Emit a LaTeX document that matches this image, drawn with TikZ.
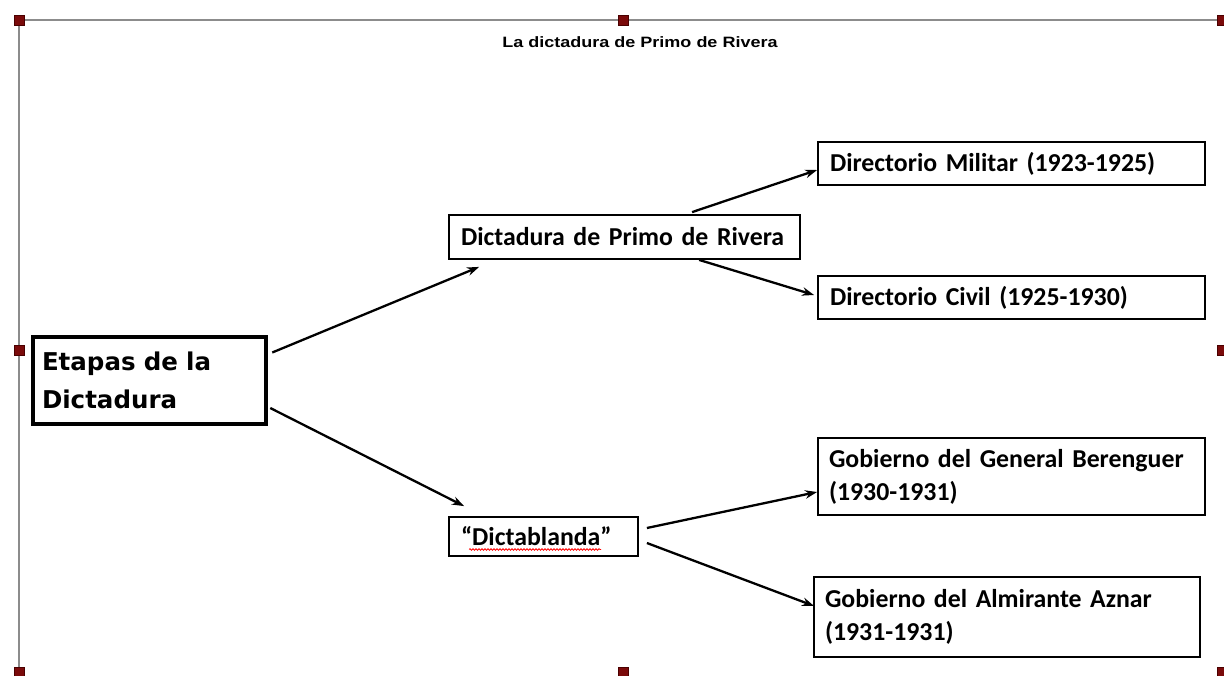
\documentclass[tikz,border=0pt]{standalone}
\usepackage{fontspec}
\setmainfont{Carlito}
\newfontfamily\titlefont{Liberation Sans}
\newfontfamily\comicfont{DejaVu Sans}
\usetikzlibrary{arrows.meta,calc,decorations.pathmorphing}
\definecolor{handle}{HTML}{7A0A0A}
\definecolor{handleedge}{HTML}{4A0000}
\definecolor{framegray}{HTML}{8C8C8C}
\begin{document}
\begin{tikzpicture}[x=1pt,y=-1pt,
 box/.style={draw=black,line width=1.8pt,fill=white,inner ysep=0pt,inner xsep=12pt,align=left,font=\bfseries\fontsize{25.8}{33}\selectfont},
 arr/.style={-{Stealth[length=12pt,width=8.5pt]},line width=2.3pt},
 handlebox/.style={fill=handle,draw=handleedge,line width=0.6pt,minimum size=10pt,inner sep=0pt}]
\useasboundingbox (0,0) rectangle (1224,675);
\fill[white] (0,0) rectangle (1224,675);
\draw[framegray,line width=1.2pt] (19,672) -- (19,20) -- (1224,20);
\foreach \n/\x/\y in {h1/19/20,h2/623/20,h3/1222/20,h4/19/350,h5/1222/350,h6/19/672,h7/623/672,h8/1222/672}
  \node[handlebox] (\n) at (\x,\y) {};
\node[font=\titlefont\bfseries\fontsize{15}{16}\selectfont,xscale=1.2] (title) at (640,42) {La dictadura de Primo de Rivera};
\node[draw=black,line width=4.5pt,fill=white,inner ysep=0pt,inner xsep=9pt,align=left,
  text width=215pt,minimum height=87pt,font=\comicfont\bfseries\fontsize{24.5}{38}\selectfont] (e) at (149.5,380.5) {Etapas de la\\Dictadura};
\node[box,text width=327pt,minimum height=44pt] (p) at (624.5,237) {Dictadura de Primo de Rivera};
\node[box,text width=363pt,minimum height=43pt] (m) at (1011.5,163.5) {Directorio Militar (1923-1925)};
\node[box,text width=363pt,minimum height=43pt] (c) at (1011.5,297.5) {Directorio Civil (1925-1930)};
\node[box,text width=365pt,minimum height=77pt,inner xsep=11pt] (b) at (1011.5,476.5) {Gobierno del General Berenguer\\(1930-1931)};
\node[box,text width=364pt,minimum height=80pt,inner xsep=11pt] (az) at (1007,617) {Gobierno del Almirante Aznar\\(1931-1931)};
\node[box,text width=165pt,minimum height=39pt] (db) at (543.5,536.5) {“Dictablanda”};
\draw[red,line width=0.8pt,decorate,decoration={snake,amplitude=0.8pt,segment length=3pt}] ($(db.west)+(21,13)$) -- ($(db.west)+(153,13)$);
\draw[arr] ($(e.east)+(4,-28)$) -- ($(p.south west)+(31,7)$);
\draw[arr] ($(e.east)+(2,27.5)$) -- ($(db.north west)+(16,-10)$);
\draw[arr] ($(p.north west)+(244,-2)$) -- ($(m.west)+(0,6.5)$);
\draw[arr] ($(p.south west)+(251,0)$) -- ($(c.west)+(-3,-2.5)$);
\draw[arr] ($(db.east)+(8,-8.5)$) -- ($(b.west)+(0,15.5)$);
\draw[arr] ($(db.east)+(8,6.5)$) -- ($(az.west)+(1,-11)$);
\end{tikzpicture}
\end{document}
